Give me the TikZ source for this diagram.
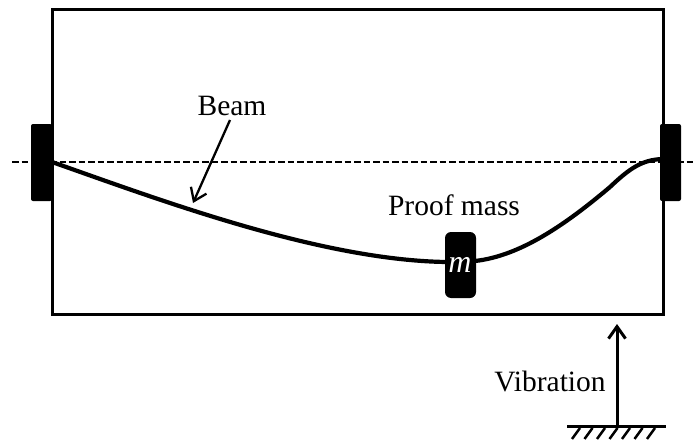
\documentclass[tikz,border=0pt]{standalone}
\usepackage{fontspec}
\setmainfont{Liberation Serif}
\usetikzlibrary{arrows.meta}
\tikzset{
  x=1pt,y=-1pt,
  frame/.style={draw=black,line width=3pt},
  clamp/.style={fill=black,rounded corners=2pt},
  beam/.style={draw=black,line width=4.2pt},
  lbl/.style={inner sep=0pt,font=\fontsize{29.5}{32}\selectfont},
  arrowthin/.style={draw=black,line width=2.3pt,-{Straight Barb[length=12pt,width=17pt,line width=2.3pt]}},
  arrowthick/.style={draw=black,line width=3pt,-{Straight Barb[length=12pt,width=17pt,line width=3pt]}},
}
\begin{document}
\begin{tikzpicture}
\useasboundingbox (0,0) rectangle (695,441);
\fill[white] (0,0) rectangle (695,441);
\draw[frame] (52,10) rectangle (663,314);
\draw[black,line width=2pt,dash pattern=on 6.5pt off 3pt] (12,162) -- (695,162);
\fill[clamp] (31,124) rectangle (52,201);
\fill[clamp] (660,124) rectangle (681,201);
\coordinate (bl) at (52,162);
\coordinate (bm) at (446,262);
\coordinate (bn) at (475,261);
\coordinate (br) at (662,159);
\draw[beam] (bl) .. controls (160,200) and (320,260) .. (bm);
\draw[beam] (bn) .. controls (520,256) and (565,225) .. (610,187)
  .. controls (630,168) and (642,160) .. (br);
\node[fill=black,rounded corners=6pt,minimum width=31pt,minimum height=66pt,inner sep=0pt] (mass) at (460.5,265) {};
\node[text=white,lbl,font=\fontsize{32}{34}\selectfont\itshape] (mlab) at (460,265) {m};
\node[lbl] (beamlab) at (232,106) {Beam};
\node[lbl] (pmlab) at (454,205) {Proof mass};
\node[lbl] (vib) at (550,381) {Vibration};
\coordinate (beamtip) at (193,203);
\draw[arrowthin] (230,120) -- (beamtip);
\coordinate (gnd) at (617,425);
\coordinate (arrtip) at (617,324);
\draw[arrowthick] (gnd) -- (arrtip);
\draw[black,line width=3pt] (567,426) -- (666,426);
\foreach \i in {0,...,6}
  \draw[black,line width=2.5pt] (580+\i*12.5,428) -- (572+\i*12.5,439);
\end{tikzpicture}
\end{document}
